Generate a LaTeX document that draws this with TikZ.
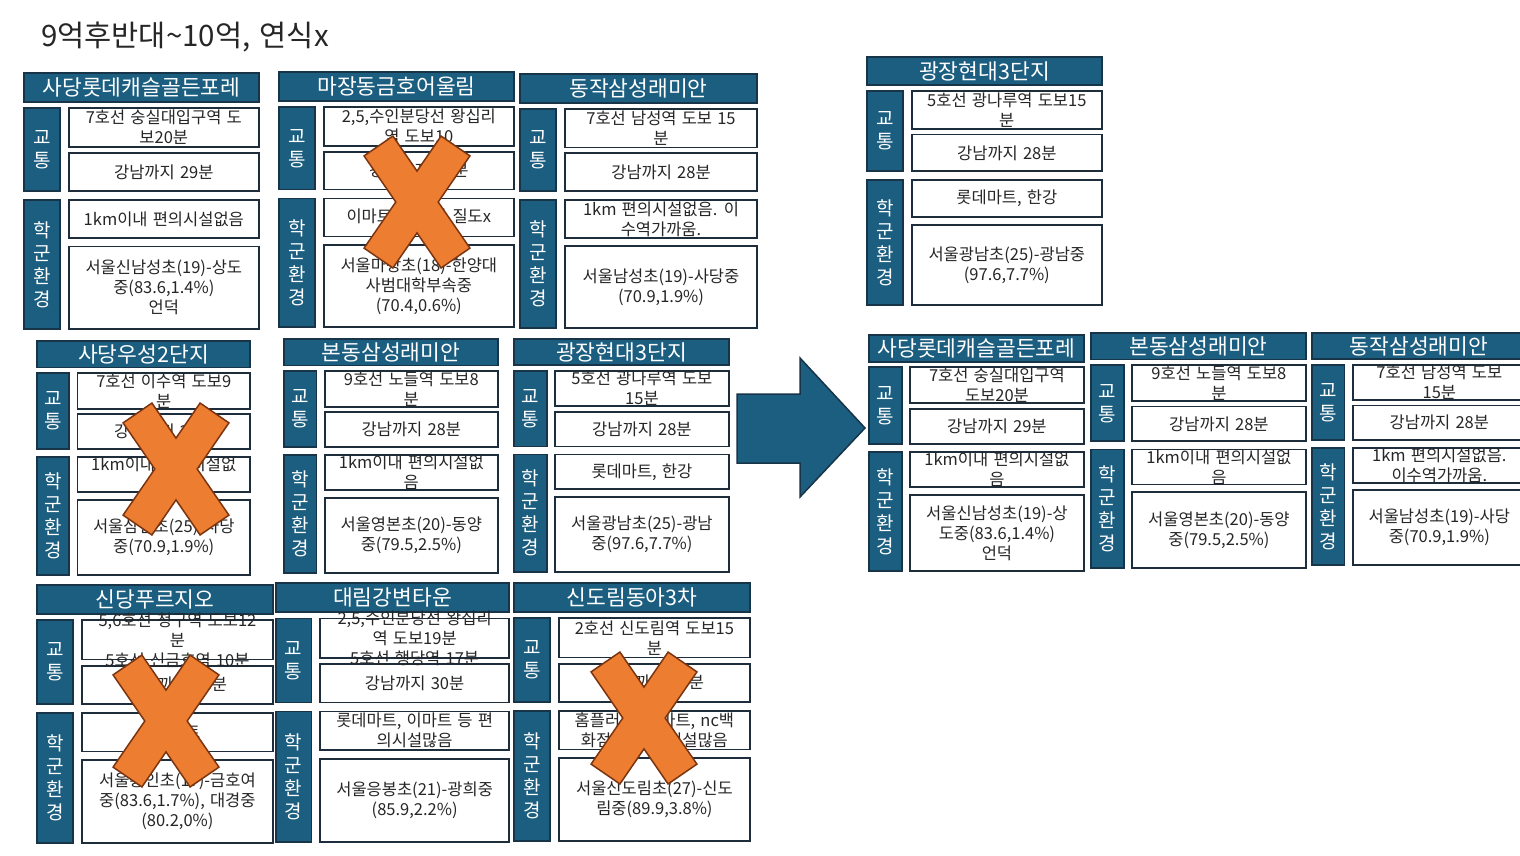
\documentclass[tikz,border=0pt]{standalone}
\usepackage{fontspec}
\setmainfont{Noto Sans CJK KR}[WordSpace=1.4]
\usetikzlibrary{calc}
\definecolor{hdrfill}{HTML}{1B5E80}
\definecolor{hdrline}{HTML}{183448}
\definecolor{boxline}{HTML}{1E2D3B}
\definecolor{xfill}{HTML}{ED7D31}
\definecolor{xline}{HTML}{7A3510}
\definecolor{txt}{HTML}{262626}
\tikzset{
  hdr/.style={draw=hdrline, fill=hdrfill, line width=1.8pt, inner sep=0pt, outer sep=0pt},
  cbox/.style={draw=boxline, fill=white, line width=1.8pt, inner sep=0pt, outer sep=0pt},
  htext/.style={text=white, inner sep=0pt, font=\fontsize{21.5}{25}\selectfont},
  stext/.style={text=white, align=center, inner sep=0pt, font=\fontsize{19}{23}\selectfont},
  ctext/.style={text=txt, align=center, inner sep=0pt, font=\fontsize{16.5}{20}\selectfont},
  xm/.style={draw=xline, fill=xfill, line width=1.5pt, line join=miter},
  bigarrow/.style={draw=hdrline, fill=hdrfill, line width=1.5pt, line join=miter},
}
\newcommand\rbox[6]{%
  \pgfmathsetmacro\rw{#5-#3}\pgfmathsetmacro\rh{#6-#4}%
  \pgfmathsetmacro\rx{(#3+#5)/2}\pgfmathsetmacro\ry{(#4+#6)/2}%
  \node[#2, minimum width=\rw pt, minimum height=\rh pt] (#1) at (\rx,\ry) {};}
\newcommand\blk[6]{%
  \pgfmathsetmacro\bW{#3-#2}\pgfmathsetmacro\bH{#5-#4}%
  \pgfmathsetmacro\bxs{#2+0.152*\bW}\pgfmathsetmacro\bxc{#2+0.19*\bW}%
  \pgfmathsetmacro\bya{#4+0.113*\bH}%
  \pgfmathsetmacro\byb{#4+0.137*\bH}%
  \pgfmathsetmacro\byc{#4+0.289*\bH}%
  \pgfmathsetmacro\byd{#4+0.3125*\bH}%
  \pgfmathsetmacro\bye{#4+0.461*\bH}%
  \pgfmathsetmacro\byf{#4+0.496*\bH}%
  \pgfmathsetmacro\byg{#4+0.645*\bH}%
  \pgfmathsetmacro\byh{#4+0.678*\bH}%
  \rbox{#1-h}{hdr}{#2}{#4}{#3}{\bya}%
  \rbox{#1-s1}{hdr}{#2}{\byb}{\bxs}{\bye}%
  \rbox{#1-s2}{hdr}{#2}{\byf}{\bxs}{#5}%
  \rbox{#1-b1}{cbox}{\bxc}{\byb}{#3}{\byc}%
  \rbox{#1-b2}{cbox}{\bxc}{\byd}{#3}{\bye}%
  \rbox{#1-b3}{cbox}{\bxc}{\byf}{#3}{\byg}%
  \rbox{#1-b4}{cbox}{\bxc}{\byh}{#3}{#5}%
  \node[htext] at (#1-h) {#6};
  \node[stext] at (#1-s1) {교\\통};
  \node[stext] at (#1-s2) {학\\군\\환\\경};
}
\newcommand\xmark[2]{%
  \draw[xm] ($(#1,#2)+(0:21.2)$) -- ($(#1,#2)+(55.5:68)+(-34.5:17.5)$) -- ($(#1,#2)+(55.5:68)+(145.5:17.5)$)
   -- ($(#1,#2)+(90:30.9)$) -- ($(#1,#2)+(124.5:68)+(34.5:17.5)$) -- ($(#1,#2)+(124.5:68)+(214.5:17.5)$)
   -- ($(#1,#2)+(180:21.2)$) -- ($(#1,#2)+(235.5:68)+(145.5:17.5)$) -- ($(#1,#2)+(235.5:68)+(325.5:17.5)$)
   -- ($(#1,#2)+(270:30.9)$) -- ($(#1,#2)+(304.5:68)+(214.5:17.5)$) -- ($(#1,#2)+(304.5:68)+(34.5:17.5)$) -- cycle;}
\begin{document}
\begin{tikzpicture}[x=1pt,y=-1pt]
\useasboundingbox[fill=white] (0,0) rectangle (1520,855);
\node[anchor=west, inner sep=0pt, text=txt, font=\fontsize{29.5}{34}\selectfont] (title) at (41,37) {9억후반대\char"7E 10억, 연식x};

% ---- left grid, row 1
\blk{A}{24}{259}{73}{329}{사당롯데캐슬골든포레}
\node[ctext] at (A-b1) {7호선 숭실대입구역 도\\보20분};
\node[ctext] at (A-b2) {강남까지 29분};
\node[ctext] at (A-b3) {1km이내 편의시설없음};
\node[ctext] at (A-b4) {서울신남성초(19)-상도\\중(83.6,1.4\%)\\언덕};

\blk{B}{279}{514}{72}{327}{마장동금호어울림}
\node[ctext] at (B-b1) {2,5,수인분당선 왕십리\\역 도보10};
\node[ctext] at (B-b2) {강남까지 25분};
\node[ctext] at (B-b3) {이마트, 학원가 질도x};
\node[ctext] at (B-b4) {서울마장초(18)-한양대\\사범대학부속중\\(70.4,0.6\%)};

\blk{C}{520}{757}{74}{328}{동작삼성래미안}
\node[ctext] at (C-b1) {7호선 남성역 도보 15\\분};
\node[ctext] at (C-b2) {강남까지 28분};
\node[ctext] at (C-b3) {1km 편의시설없음. 이\\수역가까움.};
\node[ctext] at (C-b4) {서울남성초(19)-사당중\\(70.9,1.9\%)};

% ---- row 2
\blk{D}{37}{250}{341}{575}{사당우성2단지}
\node[ctext] at (D-b1) {7호선 이수역 도보9\\분};
\node[ctext] at (D-b2) {강남까지 28분};
\node[ctext] at (D-b3) {1km이내 편의시설없\\음};
\node[ctext] at (D-b4) {서울삼일초(25)-사당\\중(70.9,1.9\%)};

\blk{E}{284}{498}{339}{573}{본동삼성래미안}
\node[ctext] at (E-b1) {9호선 노들역 도보8\\분};
\node[ctext] at (E-b2) {강남까지 28분};
\node[ctext] at (E-b3) {1km이내 편의시설없\\음};
\node[ctext] at (E-b4) {서울영본초(20)-동양\\중(79.5,2.5\%)};

\blk{F}{514}{729}{339}{572}{광장현대3단지}
\node[ctext] at (F-b1) {5호선 광나루역 도보\\15분};
\node[ctext] at (F-b2) {강남까지 28분};
\node[ctext] at (F-b3) {롯데마트, 한강};
\node[ctext] at (F-b4) {서울광남초(25)-광남\\중(97.6,7.7\%)};

% ---- row 3
\blk{G}{37}{273}{585}{843}{신당푸르지오}
\node[ctext] at (G-b1) {5,6호선 청구역 도보12\\분\\5호선 신금호역 10분};
\node[ctext] at (G-b2) {강남까지 25분};
\node[ctext] at (G-b3) {이마트};
\node[ctext] at (G-b4) {서울흥인초(17)-금호여\\중(83.6,1.7\%), 대경중\\(80.2,0\%)};

\blk{H}{276}{509}{583}{842}{대림강변타운}
\node[ctext] at (H-b1) {2,5,수인분당선 왕십리\\역 도보19분\\5호선 행당역 17분};
\node[ctext] at (H-b2) {강남까지 30분};
\node[ctext] at (H-b3) {롯데마트, 이마트 등 편\\의시설많음};
\node[ctext] at (H-b4) {서울응봉초(21)-광희중\\(85.9,2.2\%)};

\blk{I}{514}{750}{583}{841}{신도림동아3차}
\node[ctext] at (I-b1) {2호선 신도림역 도보15\\분};
\node[ctext] at (I-b2) {강남까지 35분};
\node[ctext] at (I-b3) {홈플러스, 이마트, nc백\\화점 등 편의시설많음};
\node[ctext] at (I-b4) {서울신도림초(27)-신도\\림중(89.9,3.8\%)};

% ---- crosses
\xmark{417}{202}
\xmark{176}{469}
\xmark{166}{721}
\xmark{644}{718}

% ---- big arrow
\draw[bigarrow] (737,394) -- (800,394) -- (800,358) -- (865,428) -- (800,497) -- (800,463) -- (737,463) -- cycle;

% ---- right side
\blk{R}{867}{1102}{57}{305}{광장현대3단지}
\node[ctext] at (R-b1) {5호선 광나루역 도보15\\분};
\node[ctext] at (R-b2) {강남까지 28분};
\node[ctext] at (R-b3) {롯데마트, 한강};
\node[ctext] at (R-b4) {서울광남초(25)-광남중\\(97.6,7.7\%)};

\blk{S}{869}{1084}{335}{571}{사당롯데캐슬골든포레}
\node[ctext] at (S-b1) {7호선 숭실대입구역\\도보20분};
\node[ctext] at (S-b2) {강남까지 29분};
\node[ctext] at (S-b3) {1km이내 편의시설없\\음};
\node[ctext] at (S-b4) {서울신남성초(19)-상\\도중(83.6,1.4\%)\\언덕};

\blk{T}{1091}{1306}{333}{568}{본동삼성래미안}
\node[ctext] at (T-b1) {9호선 노들역 도보8\\분};
\node[ctext] at (T-b2) {강남까지 28분};
\node[ctext] at (T-b3) {1km이내 편의시설없\\음};
\node[ctext] at (T-b4) {서울영본초(20)-동양\\중(79.5,2.5\%)};

\blk{U}{1312}{1526}{333}{565}{동작삼성래미안}
\node[ctext] at (U-b1) {7호선 남성역 도보\\15분};
\node[ctext] at (U-b2) {강남까지 28분};
\node[ctext] at (U-b3) {1km 편의시설없음.\\이수역가까움.};
\node[ctext] at (U-b4) {서울남성초(19)-사당\\중(70.9,1.9\%)};
\end{tikzpicture}
\end{document}
